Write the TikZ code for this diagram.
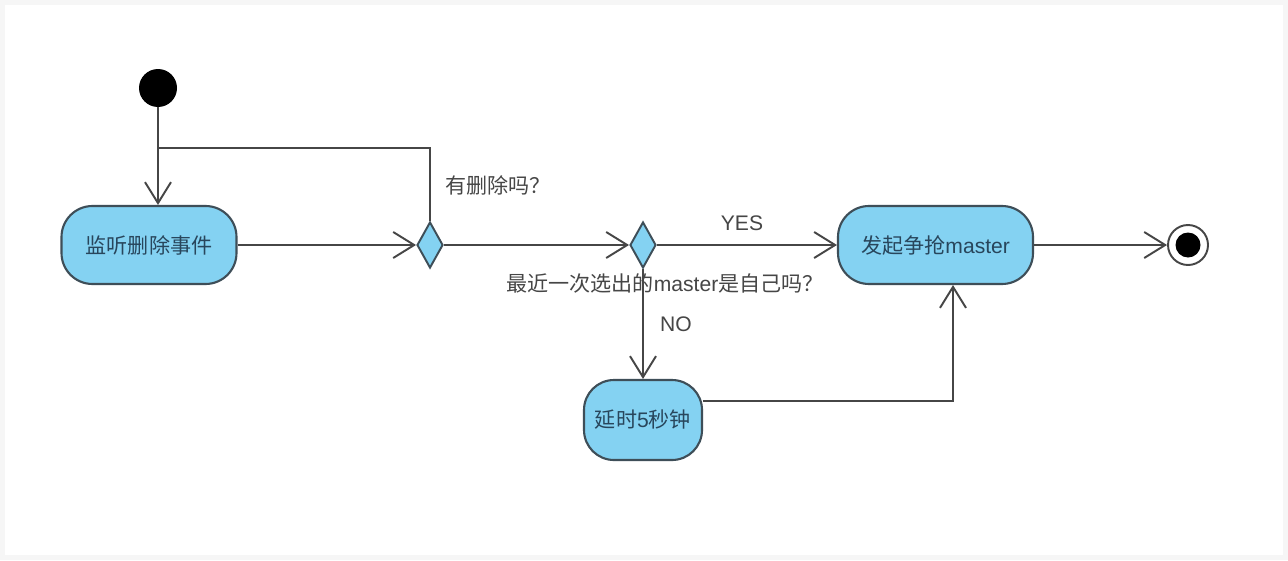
\documentclass[tikz,border=0pt]{standalone}
\usepackage{fontspec}
\setmainfont{Liberation Sans}
\newfontfamily\cjk{Noto Sans CJK SC}
\usetikzlibrary{arrows.meta,shapes.geometric}
\definecolor{actfill}{RGB}{132,210,242}
\definecolor{actline}{RGB}{62,78,88}
\definecolor{flowline}{RGB}{70,70,70}
\definecolor{acttext}{RGB}{40,70,92}
\definecolor{lbltext}{RGB}{70,70,70}
\begin{document}
\begin{tikzpicture}[every node/.style={font=\fontsize{12}{14}\selectfont}, >={Straight Barb[length=4.2mm,width=5.2mm,line width=1.1pt]},
	act/.style={draw=actline, line width=1.2pt, fill=actfill, rounded corners=0.62cm, minimum height=1.56cm, text=acttext, inner sep=2pt},
	choice/.style={draw=actline, line width=1.1pt, fill=actfill, diamond, minimum width=0.52cm, minimum height=0.92cm, inner sep=0pt},
	flow/.style={draw=flowline, line width=1.1pt},
	lbl/.style={text=lbltext}]
	\fill[gray!7] (0,0) rectangle (25.76,-11.2);
	\fill[white] (0.1,-0.1) rectangle (25.66,-11.1);
	\useasboundingbox (0,0) rectangle (25.76,-11.2);
	\node[circle, fill=black, minimum size=0.76cm, inner sep=0pt] (start) at (3.16,-1.76) {};
	\node[act, minimum width=3.5cm] (listen) at (2.98,-4.9) {\cjk 监听删除事件};
	\node[choice] (hasdel) at (8.6,-4.9) {};
	\node[choice] (ismaster) at (12.86,-4.9) {};
	\node[act, minimum width=3.9cm] (compete) at (18.71,-4.9) {{\cjk 发起争抢}master};
	\node[act, minimum width=2.36cm, minimum height=1.6cm, rounded corners=0.6cm] (delay) at (12.86,-8.4) {{\cjk 延时}5{\cjk 秒钟}};
	\node[circle, draw=flowline, line width=1.1pt, fill=white, minimum size=0.8cm, inner sep=0pt] (stop) at (23.76,-4.9) {};
	\node[circle, fill=black, minimum size=0.5cm, inner sep=0pt] (stopdot) at (stop) {};
	\coordinate (join) at (3.16,-2.96);
	\coordinate (bend) at (19.06,-8.02);
	\draw[flow, ->] (start) -- (start |- listen.north);
	\draw[flow] (hasdel.north) |- (join);
	\draw[flow, ->] (listen) -- (hasdel);
	\draw[flow, ->] (hasdel) -- (ismaster);
	\draw[flow, ->] (ismaster) -- (compete);
	\draw[flow, ->] (ismaster) -- (delay);
	\draw[flow, ->] (compete) -- (stop);
	\draw[flow, ->] (delay.east |- bend) -- (bend) -- (compete.south -| bend);
	\node[lbl] (asdel) at (9.96,-3.7) {\cjk 有删除吗？};
	\node[lbl] (yes) at (14.84,-4.46) {YES};
	\node[lbl] (askmaster) at (13.3,-5.66) {{\cjk 最近一次选出的}master{\cjk 是自己吗？}};
	\node[lbl] (no) at (13.52,-6.48) {NO};
\end{tikzpicture}
\end{document}
